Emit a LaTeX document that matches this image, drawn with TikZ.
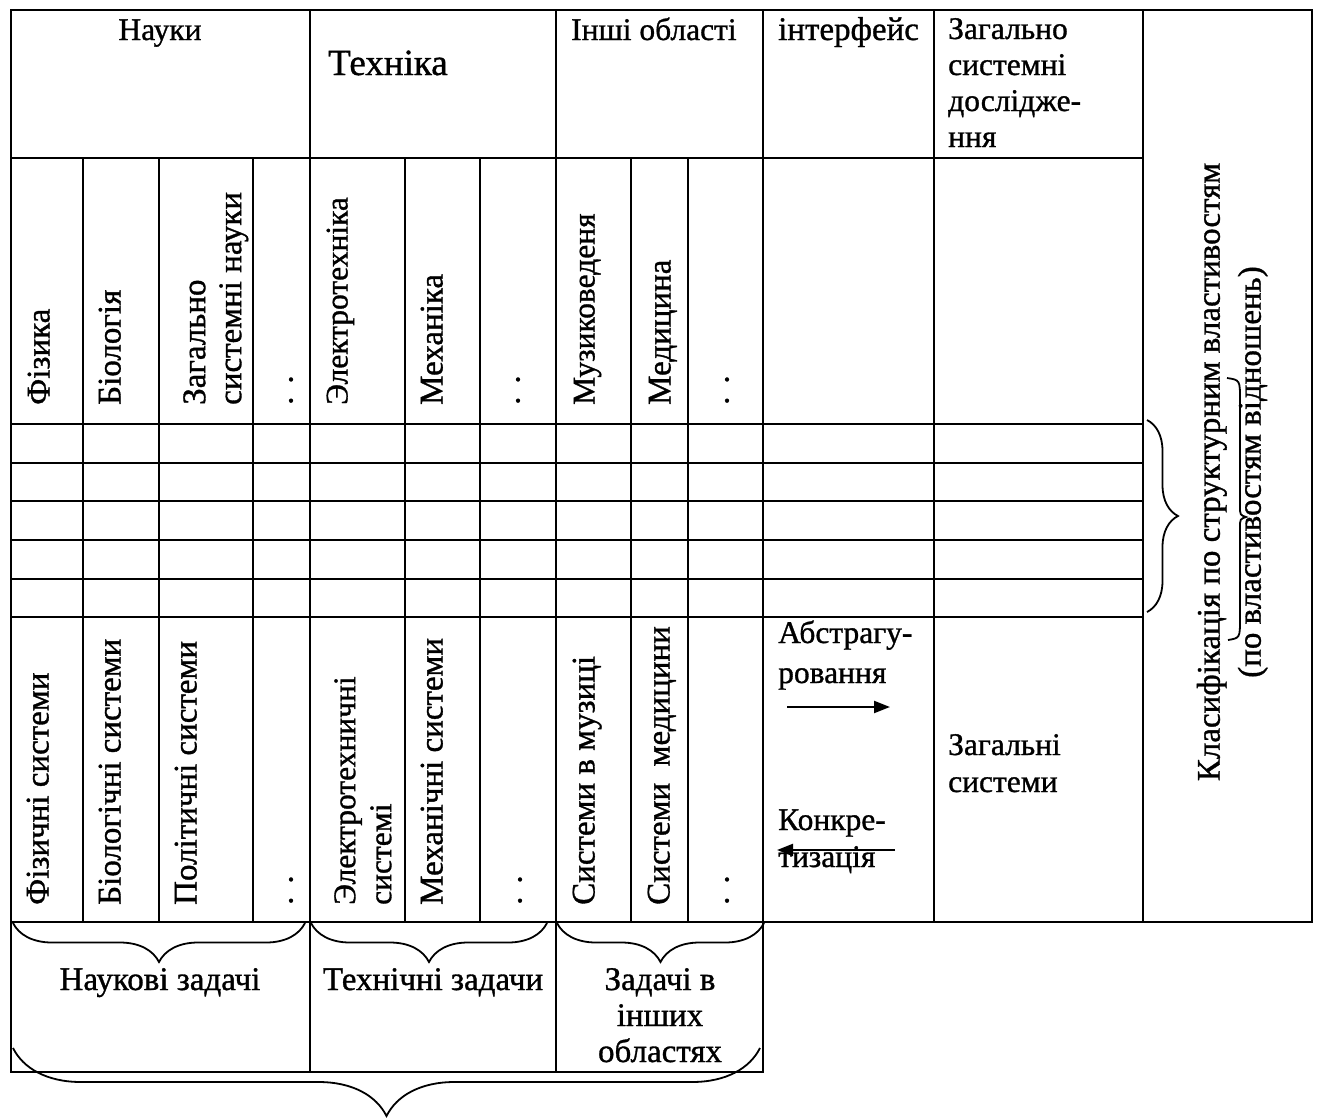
\documentclass[tikz,border=0pt]{standalone}
\usepackage{fontspec}
\setmainfont{Liberation Serif}
\newfontfamily\tnr{Liberation Serif}[FakeBold=1]
\usetikzlibrary{decorations.pathreplacing,arrows.meta}

\begin{document}
\begin{tikzpicture}[x=1pt,y=-1pt,
  rule/.style={line width=2.4pt, line cap=rect},
  txt/.style={inner sep=0pt, font=\tnr\fontsize{33}{36}\selectfont},
  small/.style={font=\tnr\fontsize{31.5}{36}\selectfont},
  vtxt/.style={txt, rotate=90, anchor=west, text height=0.7em, text depth=0.2em},
  vblock/.style={txt, rotate=90, anchor=west},
  brc/.style={decorate, decoration={brace, amplitude=#1}, line width=1.8pt},
  arr/.style={line width=2.2pt, -{Triangle[length=16pt,width=12pt]}}
]
\useasboundingbox (0,0) rectangle (1317,1117);

% ---------- table rules ----------
% column borders
\def\cA{11}\def\cB{83}\def\cC{159}\def\cD{253}\def\cE{310}\def\cF{405}
\def\cG{480}\def\cH{556}\def\cI{631}\def\cJ{688}\def\cK{763}\def\cL{934}
\def\cM{1143}\def\cN{1312}
% row borders
\def\rA{10}\def\rB{158}\def\rC{424}\def\rD{463}\def\rE{501}\def\rF{540}
\def\rG{579}\def\rH{617}\def\rI{922}\def\rJ{1072}

\draw[rule] (\cA,\rA) -- (\cN,\rA);
\draw[rule] (\cA,\rI) -- (\cN,\rI);
\foreach \r in {\rB,\rC,\rD,\rE,\rF,\rG,\rH}
  \draw[rule] (\cA,\r) -- (\cM,\r);
\draw[rule] (\cA,\rJ) -- (\cK,\rJ);
\foreach \c in {\cA,\cE,\cH,\cK}
  \draw[rule] (\c,\rA) -- (\c,\rJ);
\foreach \c in {\cL,\cM,\cN}
  \draw[rule] (\c,\rA) -- (\c,\rI);
\foreach \c in {\cB,\cC,\cD,\cF,\cG,\cI,\cJ}
  \draw[rule] (\c,\rB) -- (\c,\rI);

% ---------- header row ----------
\node[txt, small, anchor=base] (nauky) at (160,40) {Науки};
\node[txt, font=\tnr\fontsize{37}{40}\selectfont, anchor=base west] (tekhnika) at (328,75) {Техніка};
\node[txt, small, anchor=base west] (inshi) at (571,40) {Інші області};
\node[txt, anchor=base west] (interfeis) at (778,40) {інтерфейс};
\node[txt, small, anchor=base west] (zagdosl) at (948,39)
  {\begin{tabular}[t]{@{}l@{}}Загально\\системні\\дослідже-\\ння\end{tabular}};

% ---------- fields of knowledge ----------
\node[vtxt] (fizyka) at (47,405) {Фізика};
\node[vtxt] (biologiya) at (118,405) {Біологія};
\node[vblock] (zagnauky) at (216,405)
  {\begin{tabular}{@{}l@{}}Загально\\системні науки\end{tabular}};
\node[vtxt] (dotsA) at (290,405) {.\kern13pt.};
\node[vtxt, small] (elektro) at (345,405) {Электротехніка};
\node[vtxt] (mekhanika) at (440,405) {Механіка};
\node[vtxt] (dotsB) at (517,405) {.\kern13pt.};
\node[vtxt, small] (muzyka) at (592,405) {Музиковеденя};
\node[vtxt] (medytsyna) at (668,405) {Медицина};
\node[vtxt] (dotsC) at (726,405) {.\kern13pt.};

% ---------- systems ----------
\node[vtxt] (fizsys) at (46,905) {Фізичні системи};
\node[vtxt] (biosys) at (118,905) {Біологічні системи};
\node[vtxt] (polsys) at (194,905) {Політичні системи};
\node[vtxt] (dotsD) at (290,905) {.\kern13pt.};
\node[vblock, small] (elsys) at (366,905)
  {\begin{tabular}{@{}l@{}}Электротехничні\\системі\end{tabular}};
\node[vtxt] (mekhsys) at (440,905) {Механічні системи};
\node[vtxt] (dotsE) at (519,905) {.\kern13pt.};
\node[vtxt] (muzsys) at (592,905) {Системи в музиці};
\node[vtxt] (medsys) at (667,905) {Системи\ \ медицини};
\node[vtxt] (dotsF) at (726,905) {.\kern13pt.};

% ---------- interface column ----------
\node[txt, small, anchor=base west] (abstr) at (778,643)
  {\begin{tabular}[t]{@{}l@{}}Абстрагу-\\[4pt]ровання\end{tabular}};
\node[txt, small, anchor=base west] (konkr) at (778,830)
  {\begin{tabular}[t]{@{}l@{}}Конкре-\\[1pt]тизація\end{tabular}};
\coordinate (abS) at (787,707);
\coordinate (abE) at (890,707);
\coordinate (koS) at (895,850);
\coordinate (koE) at (777,850);
\draw[arr] (abS) -- (abE);
\draw[arr] (koS) -- (koE);

\node[txt, small, anchor=base west] (zagsys) at (948,755)
  {\begin{tabular}[t]{@{}l@{}}Загальні\\[1pt]системи\end{tabular}};

% ---------- classification column ----------
\node[txt, rotate=90, anchor=center] (klas) at (1233,472)
  {\begin{tabular}{@{}c@{}}Класифікація по структурним властивостям\\[5pt](по властивостям відношень)\end{tabular}};
\draw[line width=1.8pt] (1227,378) .. controls (1240,380) .. (1240,400)
  -- (1240,506) .. controls (1240,515) .. (1246,517)
  .. controls (1240,519) .. (1240,528) -- (1240,618)
  .. controls (1240,638) .. (1228,640);

% ---------- task groups ----------
\node[txt, anchor=base] (nauk) at (160,990) {Наукові задачі};
\node[txt, anchor=base] (tekhn) at (433,990) {Технічні задачи};
\node[txt, anchor=base] (inshobl) at (660,990)
  {\begin{tabular}[t]{@{}c@{}}Задачі в\\інших\\областях\end{tabular}};

% ---------- braces ----------
\coordinate (bAa) at (13,923);  \coordinate (bAb) at (305,923);
\coordinate (bBa) at (311,923); \coordinate (bBb) at (547,923);
\coordinate (bCa) at (557,923); \coordinate (bCb) at (764,923);
\coordinate (bDa) at (13,1048); \coordinate (bDb) at (760,1048);
\coordinate (bEa) at (1147,420); \coordinate (bEb) at (1147,612);
\draw[brc=39pt, decoration={mirror}] (bAa) -- (bAb);
\draw[brc=39pt, decoration={mirror}] (bBa) -- (bBb);
\draw[brc=39pt, decoration={mirror}] (bCa) -- (bCb);
\draw[brc=68pt, decoration={mirror}] (bDa) -- (bDb);
\draw[brc=31pt] (bEa) -- (bEb);
\end{tikzpicture}
\end{document}
